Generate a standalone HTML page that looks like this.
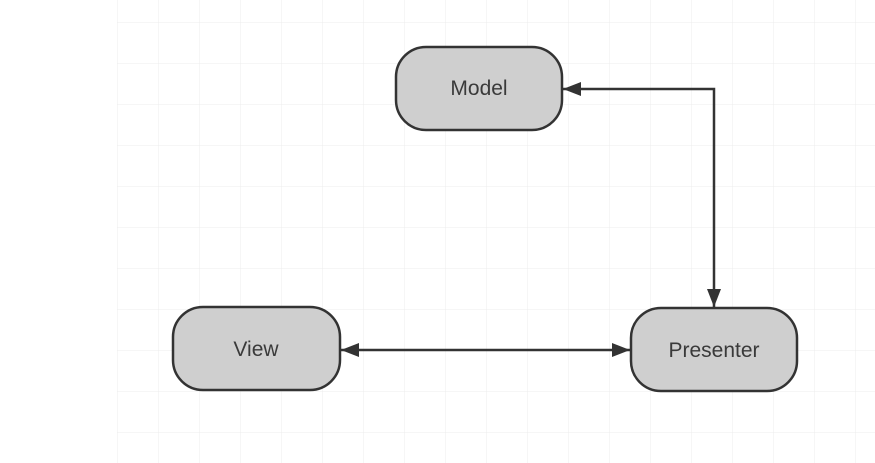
<!DOCTYPE html>
<html><head><meta charset="utf-8"><style>
html,body{margin:0;padding:0;background:#fff;}
svg{display:block;}
text{font-family:"Liberation Sans",Arial,sans-serif;font-size:21px;fill:#3a3a3a;}
</style></head><body>
<svg width="875" height="463" viewBox="0 0 875 463" xmlns="http://www.w3.org/2000/svg">
<defs>
<pattern id="g" x="117" y="22" width="41" height="41" patternUnits="userSpaceOnUse">
<path d="M0 0H41M0 0V41" stroke="#ececec" stroke-width="1" fill="none"/>
</pattern>
<marker id="b" markerWidth="20" markerHeight="14" refX="18" refY="7" orient="auto-start-reverse" markerUnits="userSpaceOnUse">
<path d="M0 0L18 7L0 14z" fill="#333"/>
</marker>
</defs>
<rect x="117" y="0" width="758" height="463" fill="url(#g)"/>
<rect x="396" y="47" width="166" height="83" rx="30" fill="#cfcfcf" stroke="#333" stroke-width="2.5"/>
<rect x="173" y="307" width="167" height="83" rx="30" fill="#cfcfcf" stroke="#333" stroke-width="2.5"/>
<rect x="631" y="308" width="166" height="83" rx="30" fill="#cfcfcf" stroke="#333" stroke-width="2.5"/>
<text x="479" y="95" text-anchor="middle">Model</text>
<text x="256" y="356" text-anchor="middle">View</text>
<text x="714" y="357" text-anchor="middle">Presenter</text>
<polyline points="563,89 714,89 714,307" fill="none" stroke="#333" stroke-width="2.5" marker-start="url(#b)" marker-end="url(#b)"/>
<line x1="341" y1="350" x2="630" y2="350" stroke="#333" stroke-width="2.5" marker-start="url(#b)" marker-end="url(#b)"/>
</svg>
</body></html>
